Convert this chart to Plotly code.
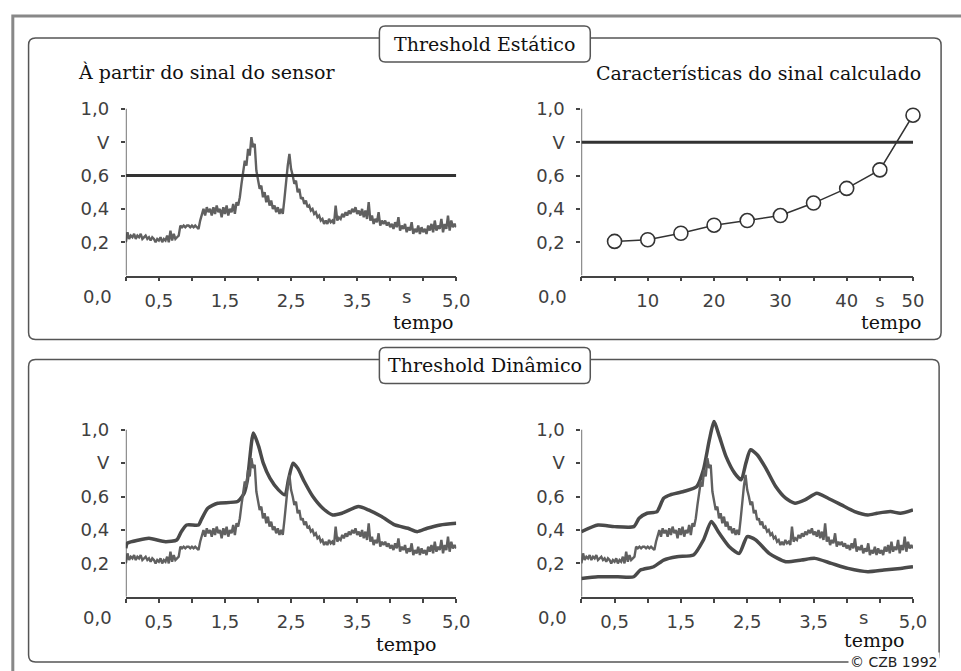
import numpy as np
import plotly.graph_objects as go

W, H = 961, 671

# ---------------- data ----------------
# sensor signal, sampled every 0.025 s from 0.0 to 5.0 s (read from picture)
sensor_v = [
    0.20, 0.26, 0.22, 0.24, 0.23, 0.25, 0.22, 0.24,
    0.23, 0.25, 0.22, 0.23, 0.24, 0.22, 0.23, 0.21,
    0.23, 0.22, 0.20, 0.22, 0.21, 0.23, 0.20, 0.22,
    0.21, 0.24, 0.20, 0.27, 0.21, 0.25, 0.22, 0.23,
    0.24, 0.30, 0.29, 0.30, 0.29, 0.30, 0.30, 0.29,
    0.30, 0.29, 0.30, 0.29, 0.28, 0.33, 0.37, 0.40,
    0.36, 0.41, 0.38, 0.40, 0.36, 0.41, 0.37, 0.42,
    0.38, 0.40, 0.35, 0.41, 0.37, 0.42, 0.36, 0.40,
    0.38, 0.43, 0.37, 0.44, 0.42, 0.47, 0.55, 0.62,
    0.69, 0.66, 0.76, 0.72, 0.83, 0.77, 0.79, 0.63,
    0.56, 0.52, 0.54, 0.47, 0.50, 0.44, 0.48, 0.42,
    0.45, 0.40, 0.42, 0.38, 0.41, 0.37, 0.40, 0.37,
    0.46, 0.58, 0.66, 0.73, 0.64, 0.60, 0.55, 0.57,
    0.50, 0.52, 0.46, 0.47, 0.43, 0.45, 0.41, 0.42,
    0.39, 0.40, 0.37, 0.38, 0.35, 0.36, 0.33, 0.34,
    0.31, 0.33, 0.31, 0.34, 0.32, 0.33, 0.31, 0.42,
    0.33, 0.35, 0.34, 0.37, 0.35, 0.38, 0.36, 0.39,
    0.37, 0.40, 0.38, 0.41, 0.37, 0.39, 0.36, 0.40,
    0.35, 0.39, 0.34, 0.44, 0.33, 0.36, 0.31, 0.34,
    0.32, 0.38, 0.30, 0.33, 0.31, 0.33, 0.30, 0.32,
    0.29, 0.31, 0.28, 0.32, 0.29, 0.35, 0.27, 0.30,
    0.28, 0.31, 0.26, 0.29, 0.27, 0.32, 0.25, 0.28,
    0.26, 0.30, 0.25, 0.29, 0.26, 0.28, 0.25, 0.30,
    0.27, 0.31, 0.26, 0.33, 0.27, 0.30, 0.28, 0.34,
    0.26, 0.31, 0.28, 0.36, 0.27, 0.33, 0.29, 0.31,
    0.29,
]
SAMPLE_STEP = 0.025
sensor_t = np.round(np.arange(len(sensor_v)) * SAMPLE_STEP, 3)

# static threshold values
static_thr_sensor = 0.6
static_thr_calc = 0.8
time_span = [0.0, 5.0]
calc_span = [0.0, 50.0]

# calculated signal characteristic
calc_t = [5, 10, 15, 20, 25, 30, 35, 40, 45, 50]
calc_v = [0.205, 0.215, 0.254, 0.302, 0.33, 0.36, 0.435, 0.523, 0.634, 0.962]

# dynamic threshold (bottom-left)
dyn_bl_t = [0.0, 0.02, 0.2, 0.35, 0.6, 0.77, 0.84, 0.92, 1.1, 1.14, 1.24, 1.39, 1.69,
            1.79, 1.84, 1.93, 2.01, 2.08, 2.18, 2.31, 2.41, 2.46, 2.53, 2.6, 2.7,
            2.83, 2.98, 3.13, 3.27, 3.52, 3.67, 3.87, 4.07, 4.27, 4.41, 4.56, 4.76, 5.0]
dyn_bl_v = [0.29, 0.32, 0.34, 0.35, 0.33, 0.34, 0.39, 0.43, 0.43, 0.46, 0.53, 0.56, 0.57,
            0.62, 0.70, 0.98, 0.90, 0.80, 0.71, 0.64, 0.61, 0.70, 0.80, 0.77, 0.69,
            0.60, 0.53, 0.49, 0.50, 0.54, 0.52, 0.48, 0.43, 0.41, 0.39, 0.41, 0.43, 0.44]

# dynamic threshold band (bottom-right)
dyn_up_t = [0.0, 0.25, 0.5, 0.79, 0.87, 0.99, 1.14, 1.24, 1.34, 1.54, 1.74, 1.84, 1.93,
            2.0, 2.08, 2.18, 2.31, 2.41, 2.48, 2.55, 2.65, 2.78, 2.93, 3.08, 3.22,
            3.37, 3.55, 3.72, 3.92, 4.12, 4.32, 4.46, 4.66, 4.81, 5.0]
dyn_up_v = [0.39, 0.43, 0.42, 0.42, 0.47, 0.50, 0.51, 0.59, 0.61, 0.63, 0.66, 0.76, 0.94,
            1.05, 0.96, 0.84, 0.74, 0.70, 0.80, 0.88, 0.85, 0.77, 0.66, 0.59, 0.56,
            0.58, 0.62, 0.59, 0.55, 0.51, 0.49, 0.50, 0.51, 0.50, 0.52]
dyn_lo_t = [0.0, 0.25, 0.55, 0.79, 0.89, 1.09, 1.24, 1.44, 1.69, 1.84, 1.96, 2.08, 2.23,
            2.38, 2.5, 2.63, 2.83, 3.08, 3.32, 3.52, 3.77, 4.02, 4.32, 4.56, 4.81, 5.0]
dyn_lo_v = [0.11, 0.12, 0.12, 0.12, 0.16, 0.18, 0.22, 0.24, 0.25, 0.34, 0.45, 0.38, 0.30,
            0.26, 0.36, 0.34, 0.26, 0.21, 0.22, 0.23, 0.20, 0.17, 0.15, 0.16, 0.17, 0.18]

# tick labels
y_tickvals = [0.2, 0.4, 0.6, 0.8, 1.0]
y_ticktext = ['0,2', '0,4', '0,6', 'V', '1,0']
t_tickvals = [0, 0.5, 1.0, 1.5, 2.0, 2.5, 3.0, 3.5, 4.0, 4.5, 5.0]
t_ticktext = ['', '0,5', '', '1,5', '', '2,5', '', '3,5', '', '', '5,0']
c_tickvals = [0, 5, 10, 15, 20, 25, 30, 35, 40, 45, 50]
c_ticktext = ['', '', '10', '', '20', '', '30', '', '40', 's', '50']
unit_label_pos = 4.25
origin_label = '0,0'

# ---------------- helpers ----------------
def px(x):
    return x / W

def py(y):
    return 1 - y / H

def rrect(x0, y0, x1, y1, r):
    rx, ry = r / W, r / H
    X0, X1, Y0, Y1 = px(x0), px(x1), py(y0), py(y1)
    return (f"M {X0+rx},{Y0} L {X1-rx},{Y0} Q {X1},{Y0} {X1},{Y0-ry} "
            f"L {X1},{Y1+ry} Q {X1},{Y1} {X1-rx},{Y1} L {X0+rx},{Y1} "
            f"Q {X0},{Y1} {X0},{Y1+ry} L {X0},{Y0-ry} Q {X0},{Y0} {X0+rx},{Y0} Z")

SIG = dict(color='#606060', width=2.4)
ENV = dict(color='#4a4a4a', width=3.5, shape='spline', smoothing=0.6)
THR = dict(color='#333333', width=3)
AX = '#444444'
TICKFONT = dict(family='DejaVu Sans', size=18, color='#404040')
SERIF = 'DejaVu Serif'

fig = go.Figure()

# top-left
fig.add_trace(go.Scatter(x=sensor_t, y=sensor_v, mode='lines', line=SIG, xaxis='x', yaxis='y'))
fig.add_trace(go.Scatter(x=time_span, y=[static_thr_sensor] * 2, mode='lines', line=THR, xaxis='x', yaxis='y'))
# top-right
fig.add_trace(go.Scatter(x=calc_span, y=[static_thr_calc] * 2, mode='lines', line=THR, xaxis='x2', yaxis='y2'))
fig.add_trace(go.Scatter(x=calc_t, y=calc_v, mode='lines+markers', cliponaxis=False,
                         line=dict(color='#333333', width=1.5),
                         marker=dict(symbol='circle', size=14, color='white',
                                     line=dict(color='#333333', width=1.6)),
                         xaxis='x2', yaxis='y2'))
# bottom-left
fig.add_trace(go.Scatter(x=dyn_bl_t, y=dyn_bl_v, mode='lines', line=ENV, xaxis='x3', yaxis='y3'))
fig.add_trace(go.Scatter(x=sensor_t, y=sensor_v, mode='lines', line=SIG, xaxis='x3', yaxis='y3'))
# bottom-right
fig.add_trace(go.Scatter(x=dyn_up_t, y=dyn_up_v, mode='lines', line=ENV, xaxis='x4', yaxis='y4'))
fig.add_trace(go.Scatter(x=sensor_t, y=sensor_v, mode='lines', line=SIG, xaxis='x4', yaxis='y4'))
fig.add_trace(go.Scatter(x=dyn_lo_t, y=dyn_lo_v, mode='lines', line=ENV, xaxis='x4', yaxis='y4'))

col1 = [px(127.7), px(463)]
col2 = [px(590), px(926.5)]
row1 = [py(275), py(98)]
row2 = [py(596.7), py(419.3)]
YMAX = 1.06

def xax(domain, anchor, rng, tv, tt):
    return dict(domain=domain, anchor=anchor, range=rng, showline=True, linecolor=AX,
                linewidth=1.5, ticks='outside', ticklen=4, tickwidth=1.5, tickcolor=AX,
                tickvals=tv, ticktext=tt, tickfont=TICKFONT, showgrid=False,
                zeroline=False, ticklabelstandoff=4, fixedrange=True)

def yax(domain, anchor):
    return dict(domain=domain, anchor=anchor, range=[0, YMAX], showline=False,
                ticks='outside', ticklen=4, tickwidth=1.5, tickcolor=AX,
                tickvals=y_tickvals, ticktext=y_ticktext, tickfont=TICKFONT,
                showgrid=False, zeroline=False, ticklabelstandoff=8, fixedrange=True)

layout = dict(
    width=W, height=H, margin=dict(l=0, r=0, t=0, b=0),
    paper_bgcolor='white', plot_bgcolor='rgba(0,0,0,0)', showlegend=False,
    xaxis=xax(col1, 'y', time_span, t_tickvals, t_ticktext),
    yaxis=yax(row1, 'x'),
    xaxis2=xax(col2, 'y2', calc_span, c_tickvals, c_ticktext),
    yaxis2=yax(row1, 'x2'),
    xaxis3=xax(col1, 'y3', time_span, t_tickvals, t_ticktext),
    yaxis3=yax(row2, 'x3'),
    xaxis4=xax(col2, 'y4', time_span, t_tickvals, t_ticktext),
    yaxis4=yax(row2, 'x4'),
)
fig.update_layout(**layout)

shapes = []
# outer frame
shapes.append(dict(type='rect', xref='paper', yref='paper', x0=px(13), x1=1.05, y0=-0.05, y1=py(15),
                   line=dict(color='#888888', width=3), layer='below'))
# panel frames
shapes.append(dict(type='path', xref='paper', yref='paper', path=rrect(29, 37, 955, 339, 7),
                   line=dict(color='#555555', width=1.5), layer='below'))
shapes.append(dict(type='path', xref='paper', yref='paper', path=rrect(29, 359, 953, 662, 7),
                   line=dict(color='#555555', width=1.5), layer='below'))
# title boxes
for y0, y1 in [(25, 61), (347, 383)]:
    shapes.append(dict(type='path', xref='paper', yref='paper', path=rrect(385, y0, 599, y1, 6),
                       fillcolor='white', line=dict(color='#555555', width=1.5), layer='below'))
# y-axis lines
for xr, yr in [('x', 'y'), ('x2', 'y2'), ('x3', 'y3'), ('x4', 'y4')]:
    shapes.append(dict(type='line', xref=xr, yref=yr, x0=0, x1=0, y0=0, y1=1.0,
                       line=dict(color=AX, width=1.5)))
fig.update_layout(shapes=shapes)

ann = []
def serif_text(text, x, y, size=19, xanchor='center', bg=None):
    d = dict(text=text, x=px(x), y=py(y), xref='paper', yref='paper', showarrow=False,
             xanchor=xanchor, yanchor='middle', font=dict(family=SERIF, size=size, color='#111111'))
    if bg:
        d['bgcolor'] = bg
    ann.append(d)

serif_text('Threshold Estático', 492, 43)
serif_text('Threshold Dinâmico', 492, 365)
serif_text('À partir do sinal do sensor', 77, 71, xanchor='left')
serif_text('Características do sinal calculado', 937, 72, xanchor='right')
serif_text('tempo', 430, 321)
serif_text('tempo', 905, 321)
serif_text('tempo', 413, 644)
serif_text('tempo', 887, 640)

for xr, yr in [('x', 'y'), ('x2', 'y2'), ('x3', 'y3'), ('x4', 'y4')]:
    ann.append(dict(text=origin_label, xref=xr, yref=yr, x=0, y=0, xanchor='right', yanchor='top',
                    xshift=-12, yshift=-8, showarrow=False, font=TICKFONT))
for xr, yr in [('x', 'y'), ('x3', 'y3'), ('x4', 'y4')]:
    ann.append(dict(text='s', xref=xr, yref=yr, x=unit_label_pos, y=0, xanchor='center', yanchor='top',
                    yshift=-8, showarrow=False, font=TICKFONT))

ann.append(dict(text='© CZB 1992', x=px(954), y=py(662), xref='paper', yref='paper', showarrow=False,
                xanchor='right', yanchor='middle', bgcolor='white',
                font=dict(family='DejaVu Sans', size=14, color='#222222')))
fig.update_layout(annotations=ann)

fig.write_html('out.html')
